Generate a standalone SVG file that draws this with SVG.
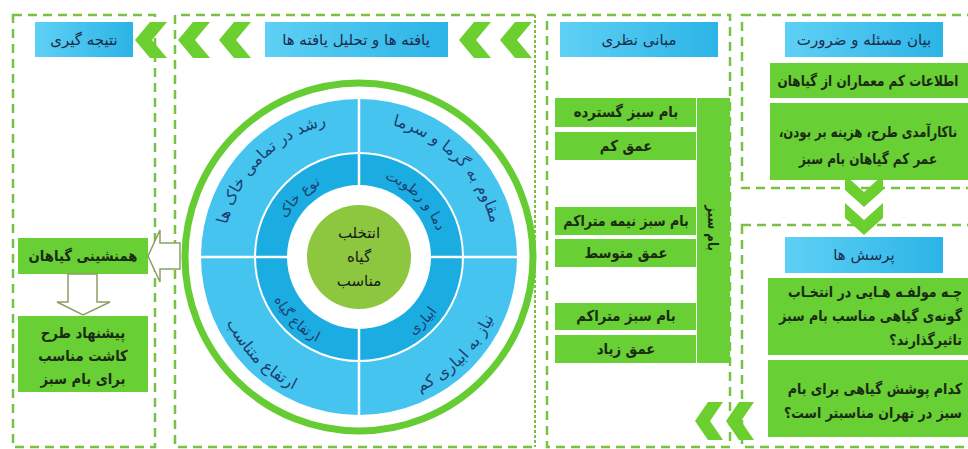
<svg xmlns="http://www.w3.org/2000/svg" width="968" height="449" viewBox="0 0 968 449">
<defs>
<linearGradient id="hdr" x1="0" y1="0" x2="1" y2="0"><stop offset="0" stop-color="#5fd0f5"/><stop offset="1" stop-color="#2bb4e6"/></linearGradient>
<polygon id="chevL" points="15,0 32,0 17,18 32,36 15,36 0,18"/>
<polygon id="chevS" points="13,0 28,0 15,19 28,38 13,38 0,19"/>
<polygon id="chevD" points="0,0 19,17 38,0 38,15 19,32 0,15"/>
<path id="oUL" d="M 223 257 A 136 136 0 0 1 359 121"/>
<path id="oUR" d="M 359 121 A 136 136 0 0 1 495 257"/>
<path id="oLL" d="M 211 257 A 148 148 0 0 0 359 405"/>
<path id="oLR" d="M 359 405 A 148 148 0 0 0 507 257"/>
<path id="mUL" d="M 277 257 A 82 82 0 0 1 359 175"/>
<path id="mUR" d="M 359 175 A 82 82 0 0 1 441 257"/>
<path id="mLL" d="M 264 257 A 95 95 0 0 0 359 352"/>
<path id="mLR" d="M 359 352 A 95 95 0 0 0 454 257"/>
</defs>
<style>
text{font-family:"DejaVu Sans",sans-serif;}
.frame{fill:none;stroke:#7ac143;stroke-width:2.5;stroke-dasharray:9 6;}
.dot{fill:none;stroke:#7ac143;stroke-width:2;stroke-dasharray:3 2;}
.hdr{fill:url(#hdr);}
.ht{font-size:15px;fill:#1c2b4b;text-anchor:middle;}
.gb{fill:#68cf35;}
.gt{font-size:15px;font-weight:bold;fill:#1b2a12;text-anchor:middle;}
.gr{font-size:15px;font-weight:bold;fill:#1b2a12;text-anchor:end;}
.chev{fill:#6ccf30;}
.hollow{fill:#ffffff;stroke:#8aa060;stroke-width:1.5;}
.rt{font-size:16px;fill:#1d3d6e;text-anchor:middle;}
.mt{font-size:14px;fill:#1d3d6e;text-anchor:middle;}
.ct{font-size:15px;fill:#1a1a1a;text-anchor:middle;}
</style>
<rect width="968" height="449" fill="#ffffff"/>

<g id="frames">
<rect class="frame" x="13" y="15" width="142" height="432"/>
<path class="frame" d="M 535 15 L 175 15 L 175 447 L 535 447"/>
<line class="dot" x1="535" y1="15" x2="535" y2="447"/>
<rect class="frame" x="547" y="15" width="183" height="432"/>
<rect class="frame" x="742" y="15" width="240" height="173"/>
<rect class="frame" x="742" y="225" width="240" height="222"/>
</g>

<g id="col1-header">
<rect class="hdr" x="35" y="22" width="98" height="35"/>
<text class="ht" x="84" y="45">نتیجه گیری</text>
</g>
<g id="col2-header">
<rect class="hdr" x="265" y="22" width="183" height="35"/>
<text class="ht" x="356" y="45">یافته ها و تحلیل یافته ها</text>
</g>
<g id="col3-header">
<rect class="hdr" x="560" y="22" width="158" height="35"/>
<text class="ht" x="639" y="45">مبانی نظری</text>
</g>
<g id="col4-header">
<rect class="hdr" x="785" y="22" width="158" height="35"/>
<text class="ht" x="864" y="45">بیان مسئله و ضرورت</text>
</g>
<g id="questions-header">
<rect class="hdr" x="785" y="237" width="158" height="36"/>
<text class="ht" x="864" y="260">پرسش ها</text>
</g>

<g id="problem1">
<rect class="gb" x="770" y="63" width="198" height="35"/>
<text class="gt" transform="translate(868 0) scale(0.8 1)" y="86">اطلاعات کم معماران از گیاهان</text>
</g>
<g id="problem2">
<rect class="gb" x="770" y="103" width="198" height="77"/>
<text class="gt" transform="translate(868 0) scale(0.78 1)" y="137">ناکارآمدی طرح، هزینه بر بودن،&#x200F;</text>
<text class="gt" transform="translate(868 0) scale(0.8 1)" y="164">عمر کم گیاهان بام سبز</text>
</g>
<g id="question1">
<rect class="gb" x="768" y="278" width="200" height="77"/>
<text class="gr" transform="translate(962 0) scale(0.84 1)" y="297">چـه مولفـه هـایی در انتخـاب</text>
<text class="gr" transform="translate(962 0) scale(0.84 1)" y="321">گونه‌ی گیاهی مناسب بام سبز</text>
<text class="gr" transform="translate(962 0) scale(0.84 1)" y="345">تاثیرگذارند؟</text>
</g>
<g id="question2">
<rect class="gb" x="768" y="360" width="200" height="77"/>
<text class="gr" transform="translate(962 0) scale(0.84 1)" y="394">کدام پوشش گیاهی برای بام</text>
<text class="gr" transform="translate(962 0) scale(0.84 1)" y="418">سبز در تهران مناسبتر است؟</text>
</g>

<g id="roof-bar">
<rect class="gb" x="697" y="98" width="33" height="265"/>
<text class="gt" transform="translate(708 228) rotate(90) scale(0.85 1)" style="font-size:14px">بام سبز</text>
</g>
<g id="t1"><rect class="gb" x="555" y="98" width="141" height="29"/><text class="gt" transform="translate(626 0) scale(0.88 1)" y="117">بام سبز گسترده</text></g>
<g id="t2"><rect class="gb" x="555" y="132" width="141" height="28"/><text class="gt" transform="translate(626 0) scale(0.88 1)" y="151">عمق کم</text></g>
<g id="t3"><rect class="gb" x="555" y="207" width="141" height="28"/><text class="gt" transform="translate(626 0) scale(0.84 1)" y="226">بام سبز نیمه متراکم</text></g>
<g id="t4"><rect class="gb" x="555" y="239" width="141" height="28"/><text class="gt" transform="translate(626 0) scale(0.88 1)" y="258">عمق متوسط</text></g>
<g id="t5"><rect class="gb" x="555" y="303" width="141" height="27"/><text class="gt" transform="translate(626 0) scale(0.88 1)" y="321">بام سبز متراکم</text></g>
<g id="t6"><rect class="gb" x="555" y="335" width="141" height="28"/><text class="gt" transform="translate(626 0) scale(0.88 1)" y="354">عمق زیاد</text></g>

<g id="wheel">
<circle cx="359" cy="257" r="174" fill="none" stroke="#66cc33" stroke-width="7"/>
<circle cx="359" cy="257" r="158" fill="#44c4ee"/>
<circle cx="359" cy="257" r="104" fill="#1bade2" stroke="#ffffff" stroke-width="2"/>
<line x1="359" y1="99" x2="359" y2="415" stroke="#ffffff" stroke-width="2.5"/>
<line x1="201" y1="257" x2="517" y2="257" stroke="#ffffff" stroke-width="2.5"/>
<circle cx="359" cy="257" r="72" fill="#ffffff"/>
<circle cx="359" cy="257" r="52" fill="#8dc63f"/>
<text class="rt"><textPath href="#oUL" startOffset="50%">رشد در تمامی خاک ها</textPath></text>
<text class="rt"><textPath href="#oUR" startOffset="50%">مقاوم به گرما و سرما</textPath></text>
<text class="rt"><textPath href="#oLL" startOffset="50%">ارتفاع متناسب</textPath></text>
<text class="rt"><textPath href="#oLR" startOffset="50%">نیاز به ابیاری کم</textPath></text>
<text class="mt"><textPath href="#mUL" startOffset="50%">نوع خاک</textPath></text>
<text class="mt"><textPath href="#mUR" startOffset="50%">دما و رطوبت</textPath></text>
<text class="mt"><textPath href="#mLL" startOffset="50%">ارتفاع گیاه</textPath></text>
<text class="mt"><textPath href="#mLR" startOffset="50%">ابیاری</textPath></text>
<text class="ct" x="359" y="238">انتخلب</text>
<text class="ct" x="359" y="262">گیاه</text>
<text class="ct" x="359" y="286">مناسب</text>
</g>

<g id="companion">
<rect class="gb" x="18" y="238" width="130" height="36"/>
<text class="gt" transform="translate(83 0) scale(0.88 1)" y="261">همنشینی گیاهان</text>
</g>
<g id="proposal">
<rect class="gb" x="18" y="316" width="130" height="76"/>
<text class="gt" transform="translate(83 0) scale(0.88 1)" y="338">پیشنهاد طرح</text>
<text class="gt" transform="translate(83 0) scale(0.88 1)" y="361">کاشت مناسب</text>
<text class="gt" transform="translate(83 0) scale(0.88 1)" y="384">برای بام سبز</text>
</g>

<g id="connectors">
<use href="#chevL" class="chev" x="135" y="22"/>
<use href="#chevL" class="chev" x="178" y="22"/>
<use href="#chevL" class="chev" x="219" y="22"/>
<use href="#chevL" class="chev" x="459" y="22"/>
<use href="#chevL" class="chev" x="500" y="22"/>
<use href="#chevS" class="chev" x="695" y="402"/>
<use href="#chevS" class="chev" x="726" y="402"/>
<use href="#chevD" class="chev" x="845" y="175"/>
<use href="#chevD" class="chev" x="845" y="203"/>
<polygon class="hollow" points="180,243 160,243 160,230 148,256 160,282 160,269 180,269"/>
<polygon class="hollow" points="68,274 97,274 97,302 110,302 83,315 57,302 68,302"/>
</g>
</svg>
